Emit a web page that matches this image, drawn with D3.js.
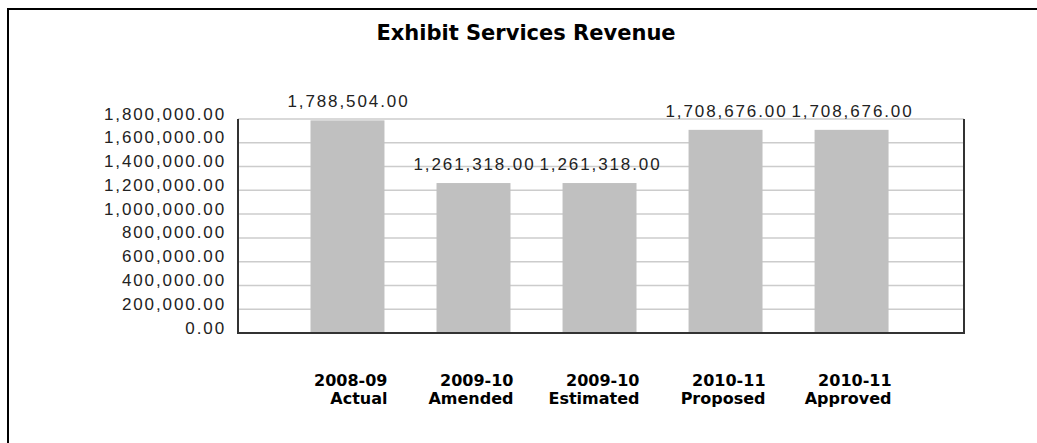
<!DOCTYPE html>
<html>
<head>
<meta charset="utf-8">
<script src="https://cdn.jsdelivr.net/npm/d3@7"></script>
<style>
  html, body { margin: 0; padding: 0; background: #fff; }
  svg { display: block; }
</style>
</head>
<body>
<svg id="chart" width="1037" height="443"></svg>
<script>
// Revenue by budget period
const yearLabels = ["2008-09", "2009-10", "2009-10", "2010-11", "2010-11"];
const stageLabels = ["Actual", "Amended", "Estimated", "Proposed", "Approved"];
const revenue = [1788504, 1261318, 1261318, 1708676, 1708676];
const yTicks = [0, 200000, 400000, 600000, 800000, 1000000, 1200000, 1400000, 1600000, 1800000];
const chartTitle = "Exhibit Services Revenue";

const rows = revenue.map((v, i) => ({ key: i, year: yearLabels[i], stage: stageLabels[i], value: v }));

const svg = d3.select("#chart");
const plot = { left: 238, right: 964, top: 119, bottom: 333 };

const x = d3.scaleBand()
  .domain(rows.map(d => d.key))
  .range([plot.left, plot.right])
  .paddingInner(0.413)
  .paddingOuter(0.587)
  .align(0.49);

const y = d3.scaleLinear()
  .domain([0, 1800000])
  .range([plot.bottom, plot.top]);

const fmt = d3.format(",.2f");
const numFont = "Liberation Sans, Arial, sans-serif";

// outer frame (left and top edges)
svg.append("path")
  .attr("d", "M8,443V9H1037")
  .attr("fill", "none")
  .attr("stroke", "#000")
  .attr("stroke-width", 2);

// title
svg.append("text")
  .attr("x", 526)
  .attr("y", 40)
  .attr("text-anchor", "middle")
  .attr("font-family", "DejaVu Sans")
  .attr("font-weight", "bold")
  .attr("font-size", 21)
  .attr("fill", "#000")
  .text(chartTitle);

// horizontal gridlines
svg.append("g")
  .selectAll("line")
  .data(yTicks)
  .join("line")
  .attr("x1", plot.left)
  .attr("x2", plot.right)
  .attr("y1", d => y(d))
  .attr("y2", d => y(d))
  .attr("stroke", "#cccccc")
  .attr("stroke-width", 1.5);

// bars
svg.append("g")
  .selectAll("rect")
  .data(rows)
  .join("rect")
  .attr("x", d => x(d.key))
  .attr("width", x.bandwidth())
  .attr("y", d => y(d.value))
  .attr("height", d => y(0) - y(d.value))
  .attr("fill", "#c0c0c0");

// plot frame: left, bottom and right edges
svg.append("path")
  .attr("d", `M${plot.left},${plot.top}V${plot.bottom}H${plot.right}V${plot.top}`)
  .attr("fill", "none")
  .attr("stroke", "#333")
  .attr("stroke-width", 2);

// y axis labels, baseline sitting on each gridline
const yAxis = d3.axisLeft(y).tickValues(yTicks).tickFormat(fmt).tickSize(0).tickPadding(12);
const yg = svg.append("g")
  .attr("transform", `translate(${plot.left},0)`)
  .call(yAxis);
yg.select(".domain").remove();
yg.selectAll("text")
  .attr("dy", 0)
  .attr("font-family", numFont)
  .attr("font-size", 17)
  .attr("letter-spacing", "1.9px")
  .attr("fill", "#222");

// value labels above bars
svg.append("g")
  .selectAll("text")
  .data(rows)
  .join("text")
  .attr("x", d => x(d.key) + x.bandwidth() / 2 + 1)
  .attr("y", d => y(d.value) - 13)
  .attr("text-anchor", "middle")
  .attr("font-family", numFont)
  .attr("font-size", 17)
  .attr("letter-spacing", "1.9px")
  .attr("fill", "#222")
  .text(d => fmt(d.value));

// category labels, two lines, right-aligned to each bar
const cat = svg.append("g")
  .selectAll("text")
  .data(rows)
  .join("text")
  .attr("text-anchor", "end")
  .attr("font-family", "DejaVu Sans")
  .attr("font-weight", "bold")
  .attr("font-size", 16)
  .attr("fill", "#000");
cat.append("tspan")
  .attr("x", d => x(d.key) + x.bandwidth() + 3)
  .attr("y", 386)
  .text(d => d.year);
cat.append("tspan")
  .attr("x", d => x(d.key) + x.bandwidth() + 3)
  .attr("y", 404)
  .text(d => d.stage);
</script>
</body>
</html>
